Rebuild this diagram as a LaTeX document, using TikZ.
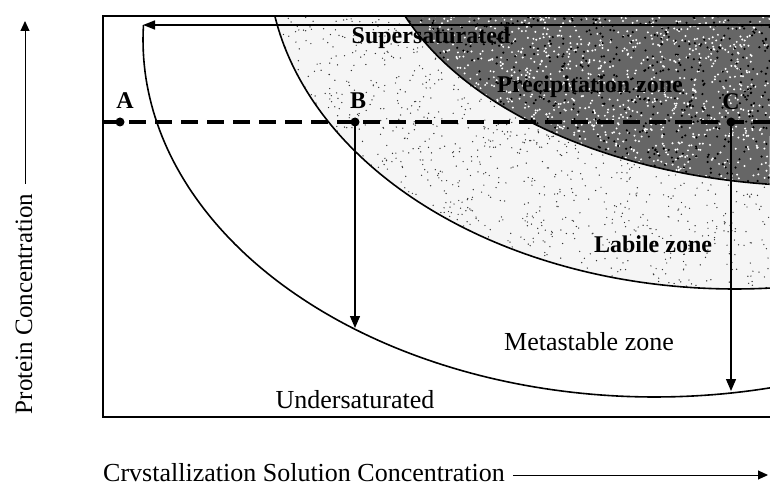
\documentclass[tikz,border=0pt]{standalone}
\usepackage{fontspec}
\setmainfont{Liberation Serif}
\usetikzlibrary{arrows.meta}
\begin{document}
\begin{tikzpicture}[x=1pt,y=-1pt,
  curve/.style={line width=1.6pt},
  lbl/.style={font=\fontsize{26}{31}\selectfont, inner sep=0pt},
  blbl/.style={font=\fontsize{24}{29}\selectfont\bfseries, inner sep=0pt},
  ptdot/.style={circle, fill=black, inner sep=0pt, minimum size=9pt},
  vtip/.style={-{Triangle[length=12pt,width=10pt]}, line width=1.3pt},
  axarrow/.style={-{Triangle[length=10pt,width=9pt]}, line width=1pt}]
\useasboundingbox (0,0) rectangle (770,486);
\pgfmathsetseed{7}
% light stippled labile region
\begin{scope}
  \clip plot[domain=9.8:94.3, samples=80] ({735-467*cos(\x)}, {-40+329*sin(\x)}) -- (770,16) -- cycle;
  \fill[black!4] (260,16) rectangle (770,300);
  \foreach \i in {1,...,1800}{
    \pgfmathsetmacro\px{260+510*rnd}
    \pgfmathsetmacro\py{16+284*rnd}
    \fill[black!80] (\px,\py) circle (0.7);
  }
\end{scope}
% dark stippled precipitation region
\begin{scope}
  \clip plot[domain=21.2:83.5, samples=80] ({820-445*cos(\x)}, {-80+266*sin(\x)}) -- (770,16) -- cycle;
  \fill[black!60] (400,16) rectangle (770,190);
  \foreach \i in {1,...,1400}{
    \pgfmathsetmacro\px{400+370*rnd}
    \pgfmathsetmacro\py{16+174*rnd}
    \fill[white] (\px,\py) circle (1.1);
  }
  \foreach \i in {1,...,700}{
    \pgfmathsetmacro\px{400+370*rnd}
    \pgfmathsetmacro\py{16+174*rnd}
    \fill[black] (\px,\py) circle (1.2);
  }
\end{scope}
% curves
\draw[curve] plot[domain=-2.4:103, samples=100] ({655-512*cos(\x)}, {40+357*sin(\x)});
\draw[curve] plot[domain=9.8:94.3, samples=80] ({735-467*cos(\x)}, {-40+329*sin(\x)});
\draw[curve] plot[domain=21.2:83.5, samples=80] ({820-445*cos(\x)}, {-80+266*sin(\x)});
% frame
\draw[line width=1.8pt] (770,16) -- (103,16) -- (103,417) -- (770,417);
% top arrow
\coordinate (topR) at (770,25);
\coordinate (topL) at (143,25);
\draw[-{Triangle[length=12pt,width=9pt]}, line width=1.5pt] (topR) -- (topL);
% dashed line
\coordinate (dL) at (103,122);
\coordinate (dR) at (770,122);
\draw[line width=3.5pt, dash pattern=on 17pt off 9pt] (dL) -- (dR);
% points
\node[ptdot] (A) at (120,122) {};
\node[ptdot] (B) at (355,122) {};
\node[ptdot] (C) at (731,122) {};
\node[blbl] (Alab) at (125,101) {A};
\node[blbl] (Blab) at (358,101) {B};
\node[blbl] (Clab) at (731,102) {C};
\coordinate (Bend) at (355,328);
\coordinate (Cend) at (731,391);
\draw[vtip] (B.center) -- (Bend);
\draw[vtip] (C.center) -- (Cend);
% zone labels
\node[blbl] (sup) at (431,38) {Supersaturated};
\node[blbl] (prec) at (590,87) {Precipitation zone};
\node[blbl] (lab) at (653,244) {Labile zone};
\node[lbl] (meta) at (589,342) {Metastable zone};
\node[lbl] (under) at (355,400) {Undersaturated};
% axes
\node[lbl, font=\fontsize{25}{30}\selectfont, rotate=90, anchor=center] (ylab) at (24,304) {Protein Concentration};
\coordinate (ybase) at (25,184);
\coordinate (ytip) at (25,21);
\draw[axarrow] (ybase) -- (ytip);
\node[lbl, anchor=west] (xlab) at (103,473) {Crvstallization Solution Concentration};
\coordinate (xtip) at (768,475);
\draw[axarrow] ([xshift=8pt]xlab.east |- xtip) -- (xtip);
\end{tikzpicture}
\end{document}
